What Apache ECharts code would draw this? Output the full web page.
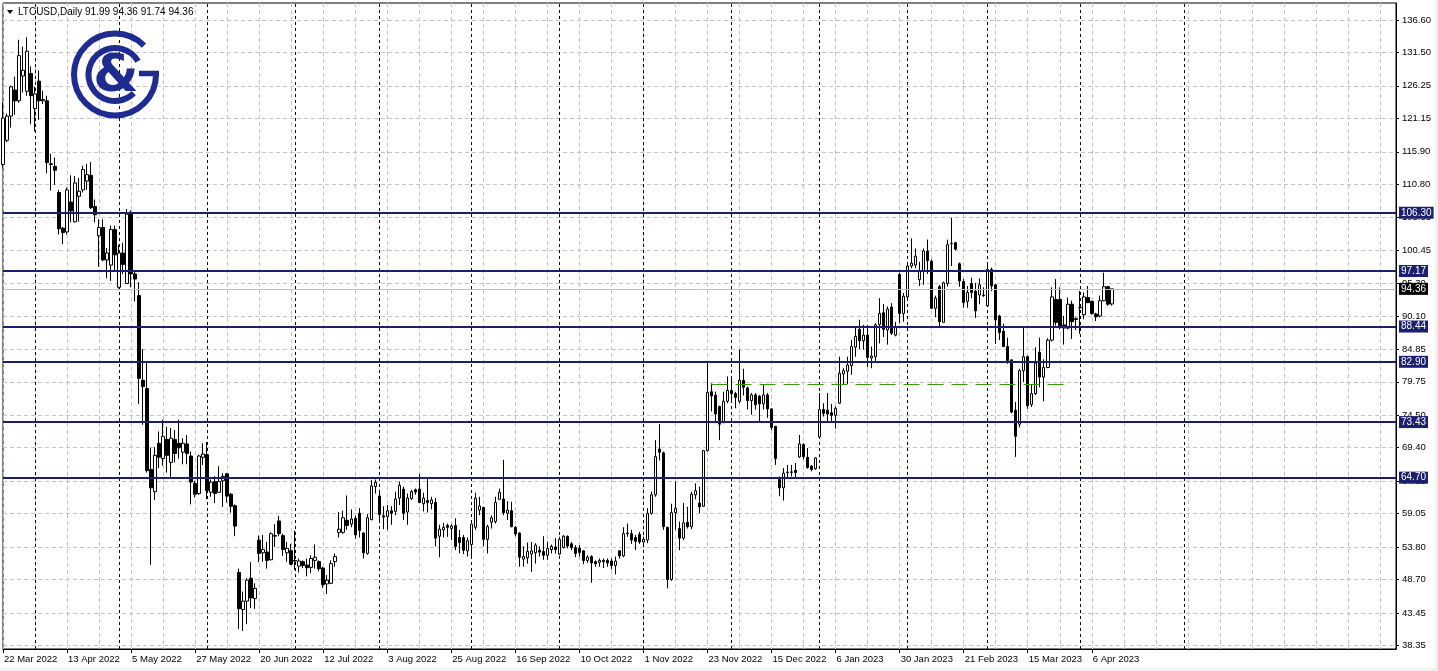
<!DOCTYPE html>
<html><head><meta charset="utf-8">
<script src="https://cdn.jsdelivr.net/npm/echarts@6/dist/echarts.min.js"></script>
<style>html,body{margin:0;padding:0;background:#fff;}#c{width:1438px;height:671px;}</style>
</head><body><div id="c"></div>
<script>
const symbolName = 'LTCUSD';
const timeframe = 'Daily';
const slotCount = 349; // bars + empty right shift area

const opens = [
113.9,117.7,121.5,125.6,123.9,127.8,125.4,128.2,122.7,127.0,
123.9,123.9,114.0,113.6,109.5,103.9,103.3,108.0,104.9,108.9,
109.9,111.3,112.2,107.3,102.7,104.0,98.9,98.1,103.7,94.6,
100.0,95.2,106.4,96.7,93.3,80.0,78.7,66.0,62.5,70.1,
67.7,70.7,67.1,70.7,70.1,68.7,70.0,68.1,63.8,62.2,
67.9,68.3,62.4,64.1,62.4,64.2,65.3,62.1,60.3,49.8,
44.0,45.3,48.9,45.7,54.9,52.9,53.0,51.8,55.5,57.9,
55.6,52.9,53.2,51.7,50.8,51.5,50.96,50.6,51.7,51.5,
50.5,48.0,48.1,51.5,56.1,56.1,58.0,57.4,58.3,59.1,
56.0,52.8,58.1,63.3,61.8,58.7,58.6,59.5,59.4,61.5,
62.9,59.3,61.4,62.8,62.9,60.6,61.1,60.6,60.8,55.5,
56.5,57.2,56.7,57.2,55.3,55.3,53.2,54.2,56.9,59.6,
60.0,55.0,57.7,57.8,61.3,61.35,59.1,59.5,56.9,56.0,
51.9,52.1,52.7,52.9,53.3,53.1,52.5,53.4,53.8,52.7,
53.7,55.5,54.3,53.7,53.6,53.2,51.7,52.3,51.5,51.4,
51.7,51.7,51.6,50.9,53.2,52.4,55.9,55.9,55.3,55.8,
54.6,54.9,59.1,62.0,69.2,68.6,56.9,48.7,59.2,56.7,
55.2,57.7,57.0,62.0,60.7,60.2,68.95,78.2,77.65,75.9,
73.35,76.7,78.4,77.9,76.7,80.0,78.8,76.8,77.7,77.5,
76.3,77.7,75.5,72.75,64.4,63.1,65.5,65.6,65.85,67.95,
69.9,67.9,66.5,66.1,71.1,75.4,75.3,74.9,74.5,76.4,
81.0,81.4,82.3,85.2,88.0,86.2,87.1,83.5,83.7,88.75,
90.6,87.9,91.5,87.1,96.6,90.5,93.1,97.95,98.1,95.8,
97.2,100.3,98.7,91.3,94.7,89.1,95.2,101.5,101.6,98.3,
95.5,92.4,95.2,94.0,93.4,93.4,91.7,97.4,95.0,90.1,
87.7,85.3,83.2,75.3,73.1,81.5,83.7,76.2,77.9,84.4,
80.5,82.0,86.3,92.7,92.7,88.7,88.2,91.95,89.66,91.4,
90.3,93.0,92.4,90.4,90.1,92.5,94.7,91.99
];
const highs = [
123.6,121.9,126.3,127.7,133.5,132.4,133.9,129.3,126.1,128.7,
125.5,124.7,115.6,115.0,109.9,104.1,110.3,112.2,112.1,111.8,
113.7,114.0,114.3,108.4,105.3,105.3,100.8,104.3,104.3,101.3,
101.6,106.9,106.7,97.0,95.4,84.9,82.7,69.4,69.5,71.96,
73.8,72.7,72.5,72.2,73.8,70.9,71.4,68.8,64.2,68.3,
70.1,70.3,64.4,64.9,66.5,65.4,65.4,62.3,60.5,50.4,
46.8,48.9,51.4,48.1,55.6,55.7,54.6,56.1,57.4,58.7,
55.9,54.6,54.3,56.4,52.0,51.7,52.0,52.5,54.2,51.7,
50.7,49.4,51.7,52.8,59.3,59.5,61.9,59.7,58.7,59.9,
56.1,58.97,64.3,64.4,62.8,60.2,60.4,60.2,62.5,64.1,
63.3,62.2,62.8,63.0,65.3,62.35,64.6,61.7,61.5,57.3,
57.6,57.5,57.4,58.3,56.5,55.7,55.3,57.5,62.35,61.7,
60.15,57.3,58.8,61.7,63.0,67.5,61.0,60.9,57.1,56.1,
53.9,54.5,54.6,54.4,53.9,55.5,54.65,54.2,55.2,55.4,
55.7,55.6,54.6,54.1,54.1,53.3,52.5,52.5,51.7,52.0,
52.0,52.0,52.0,52.3,53.3,56.9,57.5,56.5,55.7,56.2,
55.4,59.9,62.5,70.6,73.1,68.8,57.0,60.6,64.1,57.8,
60.7,60.1,62.5,63.8,63.3,69.05,82.95,79.5,78.2,76.0,
78.2,80.6,80.6,78.2,84.8,81.8,79.0,78.0,78.0,77.7,
79.3,78.0,75.6,72.85,64.9,66.2,66.7,66.7,67.0,71.4,
70.1,69.35,66.7,67.9,78.0,76.4,78.0,76.3,75.9,83.7,
81.9,83.7,86.35,88.4,89.5,88.7,88.7,85.3,88.96,92.9,
92.0,91.6,92.1,89.2,96.9,93.7,98.1,102.3,100.7,98.6,
100.7,102.1,99.0,93.3,95.0,95.5,102.1,105.5,101.76,98.5,
95.9,94.8,96.1,95.3,96.0,94.6,98.5,97.7,95.1,90.3,
88.9,86.7,83.3,76.6,81.8,88.3,83.9,79.4,85.2,86.7,
83.3,86.6,94.6,95.9,94.6,90.1,93.0,92.5,89.9,94.0,
93.8,94.8,92.5,90.6,93.3,96.9,94.8,94.36
];
const lows = [
113.4,117.4,119.7,121.7,123.6,125.2,124.7,120.2,119.1,120.9,
123.4,112.5,109.8,110.7,102.9,101.4,102.9,104.8,104.8,104.9,
109.5,109.9,106.9,104.8,97.8,98.7,96.0,95.6,97.0,94.4,
96.7,95.1,94.6,92.4,76.3,73.0,65.5,51.0,61.2,66.2,
66.6,65.5,64.7,67.1,67.7,66.8,66.8,60.5,61.6,62.0,
66.7,61.3,61.7,60.7,62.3,60.1,60.8,59.2,55.5,40.9,
40.6,41.7,44.2,44.1,51.4,51.5,50.4,51.7,53.8,55.5,
52.4,51.5,50.96,50.2,49.8,50.5,49.2,49.7,50.4,50.0,
47.4,46.4,48.0,50.7,55.3,55.9,56.5,56.9,55.1,55.3,
52.0,52.6,58.0,62.2,57.8,56.6,56.5,57.3,58.8,60.4,
58.05,57.3,61.2,62.0,60.7,59.4,59.2,59.7,53.9,52.2,
55.3,55.4,54.9,53.3,52.8,52.7,52.3,52.3,56.5,58.8,
53.9,52.8,56.7,57.5,61.2,58.8,58.05,56.9,55.5,50.7,
50.7,51.2,49.9,51.2,52.3,51.8,51.8,52.8,52.8,52.5,
53.6,53.6,53.3,52.2,52.3,51.1,51.3,48.2,50.7,50.7,
50.5,50.7,50.3,49.5,52.0,52.2,55.4,54.3,53.3,54.3,
53.8,54.4,58.9,61.7,67.4,56.5,47.3,48.5,56.5,53.3,
54.9,56.7,56.6,61.3,59.1,60.1,68.8,75.1,73.25,70.6,
73.25,76.4,76.9,75.6,76.4,77.6,75.4,74.6,75.4,73.5,
75.4,74.1,72.2,66.7,61.8,61.1,64.5,64.9,64.6,67.8,
67.6,66.1,65.7,65.95,70.9,74.3,73.5,73.5,72.4,76.3,
79.3,79.4,80.85,83.7,84.9,84.8,82.1,81.9,82.95,85.8,
86.8,85.6,87.1,86.9,88.95,89.2,92.6,97.6,97.6,94.8,
95.0,96.7,91.2,89.9,88.2,89.1,94.7,97.95,100.4,94.7,
91.4,91.4,92.9,89.8,91.95,93.1,91.5,94.0,85.7,86.3,
85.2,82.6,74.8,67.95,72.6,79.7,75.5,75.8,77.7,78.9,
76.7,81.9,86.1,88.6,88.0,85.6,88.0,86.5,87.9,87.3,
89.6,92.1,90.3,89.3,89.9,92.4,91.7,91.74
];
const closes = [
121.2,121.5,126.1,123.9,131.0,128.7,131.7,124.7,125.0,123.9,
124.1,114.2,113.9,113.0,103.8,103.2,109.9,106.6,111.0,109.7,
113.1,112.3,107.1,106.0,104.0,98.9,100.0,103.7,99.7,100.0,
98.2,106.1,96.7,95.9,80.3,79.0,65.8,63.1,68.2,67.9,
71.2,68.2,70.9,68.5,69.4,70.1,68.5,64.0,62.1,68.1,
68.4,62.7,64.0,62.2,64.1,64.9,61.8,60.2,57.1,44.1,
45.3,48.6,45.8,47.3,52.8,53.4,51.7,55.9,55.6,55.9,
53.4,53.6,51.1,51.6,51.6,50.9,50.55,52.0,52.2,50.4,
47.9,48.6,51.2,52.3,56.6,58.4,57.2,58.2,55.7,56.4,
52.9,58.4,63.4,63.97,58.9,58.5,59.5,59.1,61.35,63.5,
59.1,61.5,62.5,62.45,60.8,61.5,60.8,61.2,55.2,56.6,
56.9,56.9,57.1,53.9,54.5,53.3,54.8,57.4,61.5,60.25,
55.0,57.0,58.4,60.8,62.4,59.2,59.6,57.0,55.85,52.2,
52.3,53.1,53.2,54.1,53.0,52.5,53.55,53.9,53.4,55.0,
55.5,53.95,53.7,52.8,52.95,51.7,52.2,51.3,51.2,51.7,
51.5,51.3,50.9,51.6,52.4,55.9,56.0,54.9,54.7,54.6,
55.0,59.1,62.0,68.0,68.7,57.0,48.7,59.2,59.9,55.2,
57.6,57.0,62.1,62.65,60.1,68.95,78.1,77.55,74.7,73.1,
76.7,78.4,77.9,77.3,80.0,78.9,76.8,77.7,76.15,76.3,
77.7,75.5,72.6,67.7,63.1,65.4,65.55,65.55,65.5,70.0,
68.0,66.3,66.0,67.8,75.4,74.8,74.7,74.5,75.6,81.1,
81.5,82.4,85.3,86.9,86.2,87.1,83.6,83.8,88.7,90.5,
88.0,91.2,87.4,88.4,90.5,93.2,97.95,98.4,99.5,97.2,
100.3,98.8,91.3,92.9,89.2,95.3,101.3,101.45,100.6,95.6,
92.2,93.8,93.8,90.9,95.0,93.3,97.4,94.8,89.5,87.5,
85.3,83.1,75.0,71.2,81.5,83.7,76.0,77.9,82.7,80.5,
82.0,86.3,93.1,89.1,88.6,88.2,91.95,89.2,89.55,91.4,
93.1,92.2,90.5,89.97,92.5,94.7,91.95,94.36
];

const yTicks = [136.60,131.50,126.25,121.15,115.90,110.80,105.55,100.45,95.30,90.10,84.85,79.75,74.50,69.40,64.15,59.05,53.80,48.70,43.45,38.35];
const levels = [106.30, 97.17, 88.44, 82.90, 73.43, 64.70];
const lastPrice = 94.36;
const greenLevel = { value: 79.40, from: '24 Nov 2022', to: '28 Mar 2023' };
const separators = ['1 Apr 2022','2 May 2022','1 Jun 2022','1 Jul 2022','1 Aug 2022','1 Sep 2022','3 Oct 2022','1 Nov 2022','1 Dec 2022','2 Jan 2023','1 Feb 2023','1 Mar 2023','3 Apr 2023','9 May 2023'];

// weekday calendar for the category axis (bars + empty shift area)
const monthNames = ['Jan','Feb','Mar','Apr','May','Jun','Jul','Aug','Sep','Oct','Nov','Dec'];
const categories = [];
(function(){
  let d = new Date(Date.UTC(2022, 2, 22));
  while (categories.length < slotCount) {
    const wd = d.getUTCDay();
    if (wd !== 0 && wd !== 6) categories.push(d.getUTCDate() + ' ' + monthNames[d.getUTCMonth()] + ' ' + d.getUTCFullYear());
    d.setUTCDate(d.getUTCDate() + 1);
  }
})();

const candleData = opens.map((o, i) => [o, closes[i], lows[i], highs[i]]);
const nBars = opens.length;
const last = nBars - 1;
const headerText = symbolName + ',' + timeframe + ' ' + [opens[last], highs[last], lows[last], closes[last]].map(v => v.toFixed(2)).join(' ');

const FONT = '"Liberation Sans", Arial, sans-serif';
const NAVY = '#1b1f6e';
const LOGO = '#1f2c8f';
const FS = 9.5;

const chart = echarts.init(document.getElementById('c'), null, { renderer: 'canvas' });
chart.setOption({
  animation: false,
  backgroundColor: '#ffffff',
  textStyle: { fontFamily: FONT },
  grid: { left: 3, right: 42, top: 3, bottom: 22, show: true, borderColor: '#000', borderWidth: 1, backgroundColor: '#fff' },
  xAxis: {
    type: 'category', data: categories, boundaryGap: false,
    axisLine: { show: true, lineStyle: { color: '#000', width: 1 } },
    axisTick: { show: true, length: 4, interval: (idx) => idx % 16 === 0 && idx < nBars, lineStyle: { color: '#000' } },
    axisLabel: { interval: (idx) => idx % 16 === 0 && idx < nBars, align: 'left', margin: 5, fontSize: FS, color: '#000', fontFamily: FONT, padding: [0, 0, 0, 1] },
    splitLine: { show: true, interval: 7, lineStyle: { color: '#c4c4c4', type: [4, 3], width: 1 } }
  },
  yAxis: {
    type: 'value', position: 'right', min: 37.78, max: 139.27, scale: true,
    axisLine: { show: true, lineStyle: { color: '#000' } },
    axisTick: { show: true, length: 3, customValues: yTicks, lineStyle: { color: '#000' } },
    axisLabel: { customValues: yTicks, formatter: (v) => Number(v).toFixed(2), margin: 6, fontSize: FS, color: '#000', fontFamily: FONT },
    splitLine: { show: false }
  },
  graphic: [
    { type: 'rect', z: 0, silent: true, shape: { x: 0, y: 668, width: 1438, height: 3 }, style: { fill: '#f0f0f0' } },
    { type: 'rect', z: 0, silent: true, shape: { x: 1435, y: 0, width: 3, height: 671 }, style: { fill: '#f0f0f0' } },
    { type: 'polygon', z: 20, shape: { points: [[7, 10], [13, 10], [10, 14]] }, style: { fill: '#000' } },
    { type: 'text', z: 20, x: 18, y: 7, style: { text: headerText, font: '10px ' + FONT, fill: '#000' } },
    { type: 'arc', z: 20, shape: { cx: 115, cy: 74.5, r: 41, startAngle: -Math.PI / 4, endAngle: 0, clockwise: false }, style: { stroke: LOGO, lineWidth: 6, fill: null } },
    { type: 'line', z: 20, shape: { x1: 139, y1: 73.5, x2: 159, y2: 73.5 }, style: { stroke: LOGO, lineWidth: 5.5 } },
    { type: 'arc', z: 20, shape: { cx: 115, cy: 74.5, r: 26.5, startAngle: -Math.PI / 6, endAngle: Math.PI / 4, clockwise: false }, style: { stroke: LOGO, lineWidth: 6, fill: null } },
    { type: 'text', z: 20, x: 116, y: 77, style: { text: '&', font: 'bold 52px "DejaVu Sans", sans-serif', fill: LOGO, align: 'center', verticalAlign: 'middle' } }
  ],
  series: [
    {
      name: 'grid', type: 'line', data: [], silent: true,
      markLine: {
        silent: true, symbol: 'none', z: 1, animation: false, label: { show: false },
        lineStyle: { color: '#c4c4c4', type: [4, 3], width: 1 },
        data: yTicks.map(v => ({ yAxis: v }))
      }
    },
    {
      name: 'separators', type: 'line', data: [], silent: true,
      markLine: {
        silent: true, symbol: 'none', z: 1, animation: false, label: { show: false },
        lineStyle: { color: '#000', type: [3, 3], width: 1 },
        data: separators.map(d => ({ xAxis: d }))
      }
    },
    {
      name: symbolName, type: 'candlestick', data: candleData, barWidth: 3, silent: true, z: 3,
      itemStyle: { color: '#ffffff', color0: '#000000', borderColor: '#000000', borderColor0: '#000000', borderWidth: 1 }
    },
    {
      name: 'levels', type: 'line', data: [], silent: true,
      markLine: {
        silent: true, symbol: 'none', z: 6, animation: false, precision: 2,
        lineStyle: { color: NAVY, type: 'solid', width: 2 },
        label: { show: true, position: 'end', distance: 3, formatter: (p) => Number(p.value).toFixed(2), color: '#fff', backgroundColor: NAVY, padding: [1, 2, 0, 2], fontSize: 10, lineHeight: 11, fontFamily: FONT },
        data: levels.map(v => ({ yAxis: v })).concat([
          { yAxis: lastPrice, lineStyle: { color: '#c0c0c0', width: 1, type: 'solid' }, label: { backgroundColor: '#000' } }
        ])
      }
    },
    {
      name: 'green', type: 'line', data: [], silent: true,
      markLine: {
        silent: true, symbol: 'none', z: 5, animation: false, label: { show: false },
        lineStyle: { color: '#3c9600', type: [16, 8], width: 1 },
        data: [[{ coord: [greenLevel.from, greenLevel.value] }, { coord: [greenLevel.to, greenLevel.value] }]]
      }
    }
  ]
});
</script>
</body></html>
